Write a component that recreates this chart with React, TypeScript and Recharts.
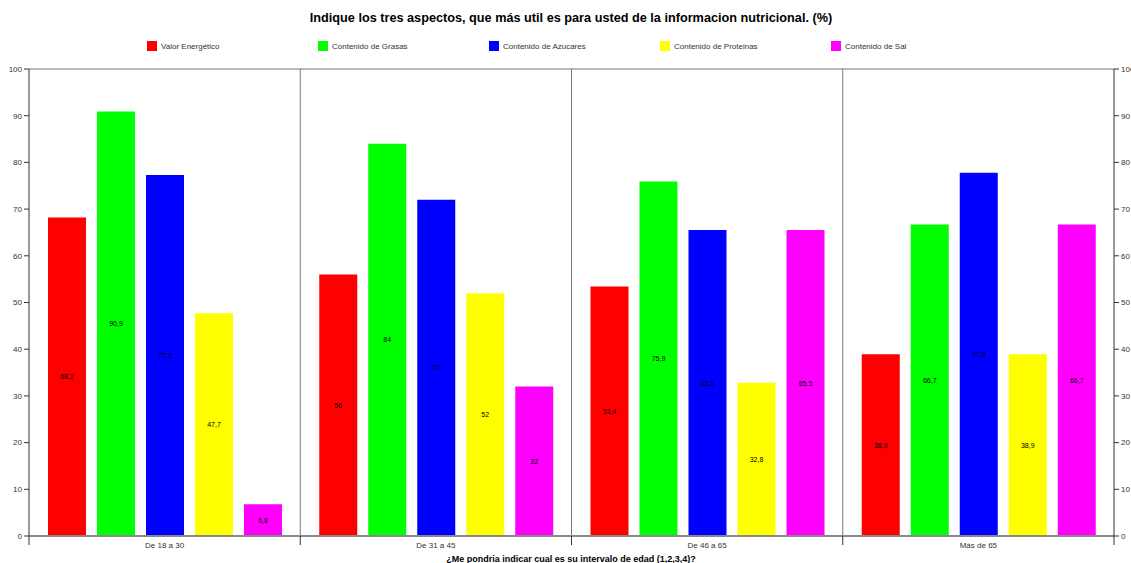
import React from 'react';
import { ComposedChart, Bar, Line, XAxis, YAxis, CartesianGrid, LabelList } from 'recharts';

const categories = ['De 18 a 30', 'De 31 a 45', 'De 46 a 65', 'Más de 65'];
const seriesNames = ['Valor Energético', 'Contenido de Grasas', 'Contenido de Azucares', 'Contenido de Proteinas', 'Contenido de Sal'];
const seriesColors = ['#ff0000', '#00ff00', '#0000ff', '#ffff00', '#ff00ff'];
const valorEnergetico = [68.2, 56, 53.4, 38.9];
const contenidoGrasas = [90.9, 84, 75.9, 66.7];
const contenidoAzucares = [77.3, 72, 65.5, 77.8];
const contenidoProteinas = [47.7, 52, 32.8, 38.9];
const contenidoSal = [6.8, 32, 65.5, 66.7];
const yTicks = [0, 10, 20, 30, 40, 50, 60, 70, 80, 90, 100];
const title = 'Indique los tres aspectos, que más util es para usted de la informacion nutricional. (%)';
const xTitle = '¿Me pondria indicar cual es su intervalo de edad (1,2,3,4)?';

const seriesValues = [valorEnergetico, contenidoGrasas, contenidoAzucares, contenidoProteinas, contenidoSal];
const keys = ['s0', 's1', 's2', 's3', 's4'];
const data = categories.map((c, i) => {
  const row: any = { name: c };
  keys.forEach((k, j) => { row[k] = seriesValues[j][i]; });
  return row;
});

const FONT = '"Liberation Sans", Arial, sans-serif';

const fmt = (v: any) => String(v).replace('.', ',');

const XTick = (props: any) => {
  const { x, y, payload, index, width } = props;
  const half = (width || 1085) / categories.length / 2;
  const top = y - 8;
  return (
    <g>
      <line x1={x - half} x2={x - half} y1={top} y2={top + 9} stroke="#333" strokeWidth={1} />
      {index === categories.length - 1 && (
        <line x1={x + half} x2={x + half} y1={top} y2={top + 9} stroke="#333" strokeWidth={1} />
      )}
      <text x={x} y={top + 12} textAnchor="middle" fontSize={8} fill="#333" fontFamily={FONT}>{payload.value}</text>
    </g>
  );
};

export default function App() {
  return (
    <div style={{ position: 'absolute', left: 0, top: 0, width: 1131, height: 563, background: '#fff', overflow: 'hidden' }}>
      <div style={{ position: 'absolute', left: 0, top: 11, width: 1142, textAlign: 'center', fontFamily: FONT, fontWeight: 'bold', fontSize: 12.7, color: '#000' }}>
        {title}
      </div>
      <div style={{ position: 'absolute', left: 147, top: 41, display: 'flex', fontFamily: FONT, fontSize: 8, color: '#333' }}>
        {seriesNames.map((n, i) => (
          <div key={n} style={{ width: 171, display: 'flex', alignItems: 'center' }}>
            <span style={{ display: 'inline-block', width: 10, height: 10, background: seriesColors[i], marginRight: 4 }} />
            <span>{n}</span>
          </div>
        ))}
      </div>
      <ComposedChart
        width={1131}
        height={563}
        data={data}
        margin={{ top: 69, right: 0, bottom: 0, left: 0 }}
        barSize={38}
        barGap={11}
      >
        <CartesianGrid
          stroke="#777"
          strokeWidth={1}
          verticalCoordinatesGenerator={({ offset }: any) =>
            [1, 2, 3].map(i => offset.left + (offset.width * i) / categories.length)
          }
        />
        <XAxis
          dataKey="name"
          height={27}
          axisLine={{ stroke: '#888', strokeWidth: 2 }}
          tickLine={false}
          tick={<XTick />}
          interval={0}
        />
        <YAxis
          yAxisId="left"
          orientation="left"
          width={29}
          domain={[0, 100]}
          ticks={yTicks}
          interval={0}
          axisLine={{ stroke: '#333' }}
          tickLine={{ stroke: '#333' }}
          tickSize={5}
          tick={{ fontSize: 8, fill: '#333', fontFamily: FONT }}
        />
        <YAxis
          yAxisId="right"
          orientation="right"
          width={17}
          domain={[0, 100]}
          ticks={yTicks}
          interval={0}
          axisLine={{ stroke: '#333' }}
          tickLine={{ stroke: '#333' }}
          tickSize={5}
          tick={{ fontSize: 8, fill: '#333', fontFamily: FONT }}
        />
        {keys.map((k, i) => (
          <Bar key={k} dataKey={k} yAxisId="left" name={seriesNames[i]} fill={seriesColors[i]} isAnimationActive={false}>
            <LabelList dataKey={k} position="center" formatter={fmt} style={{ fontSize: 7, fill: '#000', fontFamily: FONT }} />
          </Bar>
        ))}
        <Line dataKey="s0" yAxisId="right" stroke="none" dot={false} activeDot={false} legendType="none" isAnimationActive={false} />
      </ComposedChart>
      <div style={{ position: 'absolute', left: 0, top: 554, width: 1142, textAlign: 'center', fontFamily: FONT, fontWeight: 'bold', fontSize: 9, color: '#000' }}>
        {xTitle}
      </div>
    </div>
  );
}
